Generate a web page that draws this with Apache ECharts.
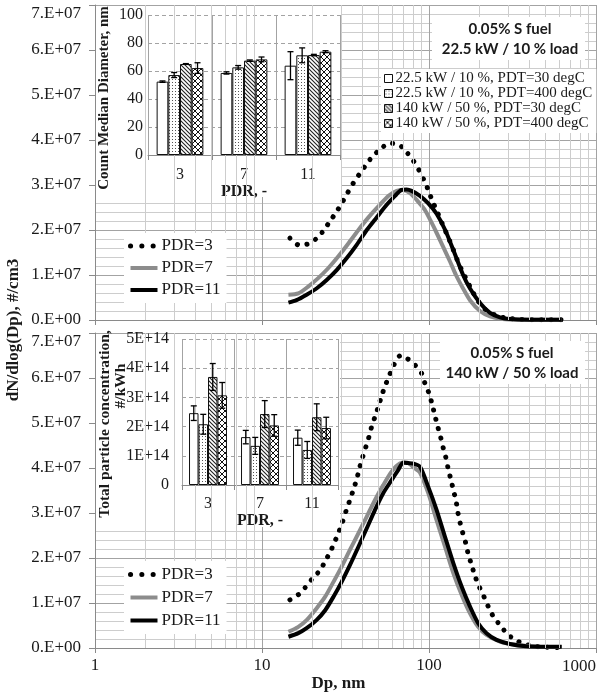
<!DOCTYPE html>
<html>
<head>
<meta charset="utf-8">
<script src="https://cdn.jsdelivr.net/npm/echarts@6/dist/echarts.min.js"></script>
<style>
html, body { margin: 0; padding: 0; background: #fff; }
#chart { width: 597px; height: 693px; }
</style>
</head>
<body>
<div id="chart"></div>
<script>
// ---- Particle number size distributions, 0.05% S fuel (dN/dlog(Dp), units of 1e7 #/cm3) ----
// 22.5 kW / 10 % load
const dpLowPdr3 = [14.7, 16.5, 18.9, 21.5, 23.6, 25.8, 28.0, 30.3, 32.6, 35.2, 38.3, 41.8, 45.8, 50.9, 57.9, 66.4, 73.5, 80.5, 87.1, 93.3, 99.0, 104.6, 111, 117.5, 124.7, 132.3, 139.8, 147.8, 157, 168, 180, 195, 216, 248, 292, 351, 450, 623];
const nLowPdr3 = [1.82, 1.67, 1.69, 1.83, 2.01, 2.22, 2.41, 2.62, 2.83, 3.04, 3.24, 3.44, 3.63, 3.79, 3.93, 3.89, 3.73, 3.54, 3.33, 3.11, 2.89, 2.65, 2.44, 2.22, 2.00, 1.78, 1.56, 1.33, 1.11, 0.89, 0.67, 0.44, 0.24, 0.11, 0.04, 0.015, 0.005, 0.003];
const dpLowPdr7 = [14.4, 16.5, 18.9, 21.7, 24.9, 28.6, 32.9, 37.8, 43.4, 49.9, 57.3, 64.1, 70.1, 77.0, 84.3, 94.7, 109, 121, 133.6, 145, 160, 176, 202, 232, 266, 320, 450, 623];
const nLowPdr7 = [0.56, 0.59, 0.74, 0.93, 1.15, 1.41, 1.70, 2.00, 2.28, 2.53, 2.76, 2.87, 2.89, 2.82, 2.67, 2.44, 2.00, 1.64, 1.30, 1.00, 0.70, 0.44, 0.20, 0.08, 0.03, 0.01, 0.004, 0.003];
const dpLowPdr11 = [14.4, 16.1, 18.5, 21.2, 24.4, 28.0, 32.1, 36.9, 42.4, 48.6, 55.8, 62.6, 68.5, 73.5, 78.7, 88.3, 99.0, 111, 125, 140, 160, 176, 202, 232, 266, 305, 400, 623];
const nLowPdr11 = [0.385, 0.44, 0.56, 0.70, 0.89, 1.11, 1.37, 1.67, 2.00, 2.28, 2.56, 2.76, 2.89, 2.90, 2.87, 2.76, 2.59, 2.36, 2.00, 1.55, 1.00, 0.70, 0.38, 0.16, 0.06, 0.02, 0.005, 0.003];

// 140 kW / 50 % load
const dpHighPdr3 = [14.7, 16.7, 18.3, 20.1, 22.3, 24.0, 25.8, 27.4, 29.0, 30.4, 31.9, 33.6, 35.2, 36.9, 38.3, 39.9, 41.8, 43.6, 45.2, 47.5, 49.9, 52.2, 55.1, 58.1, 61.6, 66.9, 73.5, 82.4, 90.4, 94.6, 100, 104.7, 108.6, 112.8, 117.5, 121.8, 126.4, 130.5, 135.5, 139.9, 145.2, 148.6, 153.4, 159.2, 166, 171.9, 180.2, 188.5, 200, 213.4, 226.5, 242.7, 266, 291.8, 327, 380, 450, 623];
const nHighPdr3 = [1.07, 1.20, 1.36, 1.55, 1.73, 1.94, 2.16, 2.38, 2.60, 2.81, 3.05, 3.29, 3.51, 3.75, 3.99, 4.22, 4.46, 4.68, 4.90, 5.14, 5.38, 5.62, 5.86, 6.07, 6.29, 6.49, 6.44, 6.29, 6.10, 5.88, 5.66, 5.40, 5.16, 4.92, 4.68, 4.44, 4.22, 3.97, 3.73, 3.51, 3.27, 3.03, 2.79, 2.56, 2.33, 2.08, 1.84, 1.60, 1.36, 1.14, 0.92, 0.70, 0.51, 0.33, 0.18, 0.08, 0.03, 0.01];
const dpHighPdr7 = [14.4, 16.5, 18.5, 21.2, 23.9, 26.8, 30.0, 33.6, 37.8, 42.4, 47.5, 53.2, 59.7, 66.9, 73.5, 82.4, 88.3, 99, 111, 124.7, 140, 157, 176, 197, 221, 266, 330, 450, 623];
const nHighPdr7 = [0.36, 0.47, 0.62, 0.88, 1.14, 1.47, 1.81, 2.18, 2.55, 2.92, 3.29, 3.62, 3.92, 4.10, 4.12, 3.99, 3.90, 3.44, 2.84, 2.25, 1.66, 1.18, 0.77, 0.47, 0.29, 0.14, 0.07, 0.03, 0.02];
const dpHighPdr11 = [14.4, 16.5, 18.5, 21.2, 23.9, 26.8, 30.0, 33.6, 37.8, 42.4, 47.5, 53.2, 59.7, 65.5, 70.1, 75, 80.5, 88.3, 99, 111, 124.7, 140, 157, 176, 197, 221, 254, 305, 382, 505, 623];
const nHighPdr11 = [0.25, 0.33, 0.44, 0.62, 0.84, 1.14, 1.47, 1.84, 2.25, 2.66, 3.07, 3.44, 3.73, 3.96, 4.12, 4.11, 4.10, 4.03, 3.58, 3.07, 2.47, 1.88, 1.36, 0.92, 0.55, 0.33, 0.18, 0.09, 0.04, 0.03, 0.03];

// ---- Inset bar charts ----
const pdrCats = ['3', '7', '11'];
const caseNames = [
  '22.5 kW / 10 %, PDT=30 degC',
  '22.5 kW / 10 %, PDT=400 degC',
  '140 kW / 50 %, PDT=30 degC',
  '140 kW / 50 %, PDT=400 degC'
];
// count median diameter, nm (mean and error half-width)
const cmdLow30 = [52.4, 58.6, 63.8];   const cmdLow30Err = [0.5, 0.8, 10.0];
const cmdLow400 = [57.1, 62.6, 71.2];  const cmdLow400Err = [1.8, 1.3, 5.3];
const cmdHigh30 = [65.0, 67.4, 71.4];  const cmdHigh30Err = [0.3, 0.5, 0.5];
const cmdHigh400 = [62.1, 68.3, 73.8]; const cmdHigh400Err = [3.8, 1.7, 0.7];
// total particle concentration, units of 1e14 #/kWh
const tpcLow30 = [2.46, 1.64, 1.62];   const tpcLow30Err = [0.25, 0.23, 0.26];
const tpcLow400 = [2.08, 1.34, 1.20];  const tpcLow400Err = [0.34, 0.29, 0.29];
const tpcHigh30 = [3.70, 2.43, 2.32];  const tpcHigh30Err = [0.46, 0.46, 0.46];
const tpcHigh400 = [3.07, 2.04, 1.95]; const tpcHigh400Err = [0.44, 0.37, 0.37];

// decade ticks and minor log gridlines (2..9 in each decade)
const decadeDp = [1, 10, 100, 1000];
const minorDp = [2, 3, 4, 5, 6, 7, 8, 9, 20, 30, 40, 50, 60, 70, 80, 90, 200, 300, 400, 500, 600, 700, 800, 900];

const SERIF = "'Liberation Serif', 'Times New Roman', serif";
const SANS = "Lato, 'Noto Sans', sans-serif";
const TXT = '#1a1a1a';
const AXIS = '#8a8a8a';
const MAJOR = '#a3a3a3';
const MINOR = '#cdcdcd';
const GRAY_LINE = '#8c8c8c';
const CAT_GAP = 0.27;

// ---- fill patterns for the bars ----
function pattern(size, draw) {
  const c = document.createElement('canvas');
  c.width = size; c.height = size;
  const g = c.getContext('2d');
  g.fillStyle = '#fff';
  g.fillRect(0, 0, size, size);
  draw(g, size);
  return { image: c, repeat: 'repeat' };
}
const fillPlain = '#fff';
const fillDots = pattern(3, (g) => { g.fillStyle = '#555'; g.fillRect(1, 1, 1, 1); });
const fillHatch = pattern(4, (g, s) => {
  g.strokeStyle = '#222'; g.lineWidth = 1.1;
  g.beginPath();
  for (let o = -s; o <= s; o += s) { g.moveTo(o - 1, -1); g.lineTo(o + s + 1, s + 1); }
  g.stroke();
});
const fillCross = pattern(6, (g, s) => {
  g.strokeStyle = '#111'; g.lineWidth = 1;
  g.beginPath();
  for (let o = -s; o <= s; o += s) {
    g.moveTo(o - 1, -1); g.lineTo(o + s + 1, s + 1);
    g.moveTo(o - 1, s + 1); g.lineTo(o + s + 1, -1);
  }
  g.stroke();
});
const fills = [fillPlain, fillDots, fillHatch, fillCross];

const zip = (xs, ys, k) => xs.map((x, i) => [x, ys[i] * k]);

const chart = echarts.init(document.getElementById('chart'), null, { renderer: 'canvas' });

const sciLabel = (v) => v === 0 ? '0.E+00' : (v / 1e7).toFixed(0) + '.E+07';
const X_MAX = decadeDp[decadeDp.length - 1];

function mainX(gi, showLabels) {
  return {
    type: 'log', logBase: 10, gridIndex: gi, min: decadeDp[0], max: X_MAX, z: 0,
    axisLine: { show: true, lineStyle: { color: AXIS, width: 1 } },
    axisTick: { show: true, length: 5, lineStyle: { color: AXIS } },
    axisLabel: showLabels ? {
      show: true, fontFamily: SERIF, fontSize: 17, color: TXT, margin: 9,
      customValues: decadeDp.slice(0, -1),
      showMinLabel: true, hideOverlap: false,
      // the last decade label sits flush with the page edge (title component below)
      formatter: (v) => (v >= X_MAX * 0.999 ? '' : String(Math.round(v)))
    } : { show: false },
    splitLine: { show: true, lineStyle: { color: MAJOR, width: 1 } },
    name: showLabels ? 'Dp, nm' : '',
    nameLocation: 'middle', nameGap: 26,
    nameTextStyle: { fontFamily: SERIF, fontSize: 17, fontWeight: 'bold', color: TXT, padding: [0, 14, 0, 0] }
  };
}
function mainY(gi) {
  return {
    type: 'value', gridIndex: gi, min: 0, max: 7e7, interval: 1e7, z: 0,
    axisLine: { show: true, lineStyle: { color: AXIS } },
    axisTick: { show: true, length: 6, lineStyle: { color: AXIS } },
    axisLabel: {
      fontFamily: SERIF, fontSize: 17, color: TXT, margin: 14,
      formatter: sciLabel, verticalAlignMaxLabel: 'top'
    },
    splitLine: { show: true, lineStyle: { color: MAJOR, width: 1 } },
    minorTick: { show: false, splitNumber: 5 },
    minorSplitLine: { show: true, lineStyle: { color: MINOR, width: 1 } }
  };
}
function insetX(gi, labelMargin) {
  return {
    type: 'category', gridIndex: gi, data: pdrCats, z: 4,
    axisLine: { show: true, lineStyle: { color: AXIS } },
    axisTick: { show: true, length: 5, lineStyle: { color: AXIS } },
    axisLabel: { fontFamily: SERIF, fontSize: 16, color: TXT, margin: labelMargin },
    splitLine: { show: true, lineStyle: { color: MAJOR, width: 1 } },
    name: 'PDR, -', nameLocation: 'middle', nameGap: 27,
    nameTextStyle: { fontFamily: SERIF, fontSize: 16, fontWeight: 'bold', color: TXT }
  };
}
function insetY(gi, max, interval, fmt, margin) {
  return {
    type: 'value', gridIndex: gi, min: 0, max: max, interval: interval, z: 4,
    axisLine: { show: false },
    axisTick: { show: false },
    axisLabel: { fontFamily: SERIF, fontSize: 16, color: TXT, margin: margin, formatter: fmt },
    splitLine: { show: true, lineStyle: { color: MAJOR, type: [4, 3], width: 1 } }
  };
}

function gridlineSeries(ai) {
  return {
    type: 'line', xAxisIndex: ai, yAxisIndex: ai, data: [], z: 1, silent: true,
    markLine: {
      silent: true, symbol: 'none', animation: false,
      label: { show: false },
      lineStyle: { color: MINOR, width: 1, type: 'solid' },
      emphasis: { disabled: true },
      data: minorDp.map((v) => ({ xAxis: v }))
    }
  };
}
const dotStyle = { color: '#000', width: 5, type: [0.1, 9.6], cap: 'round', join: 'round' };
function curve(name, ai, xs, ys, style) {
  return {
    type: 'line', name: name, xAxisIndex: ai, yAxisIndex: ai, z: 3,
    data: zip(xs, ys, 1e7), symbol: 'none', showSymbol: false, smooth: 0.25,
    itemStyle: { color: style.color },
    lineStyle: style, animation: false
  };
}

function barSeries(ai, idx, vals, scale) {
  return {
    type: 'bar', name: caseNames[idx], xAxisIndex: ai, yAxisIndex: ai, z: 5,
    data: vals.map((v) => v * scale),
    barGap: '0%', barCategoryGap: (CAT_GAP * 100) + '%',
    itemStyle: { color: fills[idx], borderColor: '#111', borderWidth: 1 },
    animation: false
  };
}
function errSeries(ai, idx, vals, errs, scale) {
  return {
    type: 'custom', name: 'err' + ai + '-' + idx, xAxisIndex: ai, yAxisIndex: ai, z: 6,
    data: vals.map((v, i) => [i, v * scale, errs[i] * scale]),
    animation: false, silent: true,
    renderItem: function (params, api) {
      const ci = api.value(0), v = api.value(1), e = api.value(2);
      const band = api.size([1, 0])[0];
      const bw = band * (1 - CAT_GAP) / 4;
      const top = api.coord([ci, v + e]);
      const bot = api.coord([ci, v - e]);
      const x = top[0] + (idx - 1.5) * bw;
      const st = { stroke: '#000', lineWidth: 1.3 };
      const cap = 3;
      return {
        type: 'group',
        children: [
          { type: 'line', shape: { x1: x, y1: top[1], x2: x, y2: bot[1] }, style: st },
          { type: 'line', shape: { x1: x - cap, y1: top[1], x2: x + cap, y2: top[1] }, style: st },
          { type: 'line', shape: { x1: x - cap, y1: bot[1], x2: x + cap, y2: bot[1] }, style: st }
        ]
      };
    }
  };
}

const cmdVals = [cmdLow30, cmdLow400, cmdHigh30, cmdHigh400];
const cmdErrs = [cmdLow30Err, cmdLow400Err, cmdHigh30Err, cmdHigh400Err];
const tpcVals = [tpcLow30, tpcLow400, tpcHigh30, tpcHigh400];
const tpcErrs = [tpcLow30Err, tpcLow400Err, tpcHigh30Err, tpcHigh400Err];

const series = [
  gridlineSeries(0),
  gridlineSeries(1),
  curve('PDR=3', 0, dpLowPdr3, nLowPdr3, dotStyle),
  curve('PDR=7', 0, dpLowPdr7, nLowPdr7, { color: GRAY_LINE, width: 4, join: 'round' }),
  curve('PDR=11', 0, dpLowPdr11, nLowPdr11, { color: '#000', width: 4, join: 'round' }),
  curve('PDR=3', 1, dpHighPdr3, nHighPdr3, dotStyle),
  curve('PDR=7', 1, dpHighPdr7, nHighPdr7, { color: GRAY_LINE, width: 4, join: 'round' }),
  curve('PDR=11', 1, dpHighPdr11, nHighPdr11, { color: '#000', width: 4, join: 'round' })
];
for (let k = 0; k < 4; k++) series.push(barSeries(2, k, cmdVals[k], 1));
for (let k = 0; k < 4; k++) series.push(barSeries(3, k, tpcVals[k], 1e14));
for (let k = 0; k < 4; k++) series.push(errSeries(2, k, cmdVals[k], cmdErrs[k], 1));
for (let k = 0; k < 4; k++) series.push(errSeries(3, k, tpcVals[k], tpcErrs[k], 1e14));

function pdrLegend(top, rowH) {
  const hidden = { opacity: 0 };
  return {
    orient: 'vertical', left: 124, top: top, z: 7,
    backgroundColor: '#fff', padding: [2, 6, 2, 4],
    itemWidth: 27, itemHeight: 10, itemGap: 0, selectedMode: false,
    textStyle: { fontFamily: SERIF, fontSize: 17, color: TXT, lineHeight: rowH, padding: [0, 0, 0, -1] },
    data: [
      { name: 'PDR=3', itemStyle: hidden, lineStyle: { width: 5, type: [0.1, 11.2], cap: 'round', color: '#000' } },
      { name: 'PDR=7', itemStyle: hidden, lineStyle: { width: 4, color: GRAY_LINE } },
      { name: 'PDR=11', itemStyle: hidden, lineStyle: { width: 4, color: '#000' } }
    ]
  };
}

const option = {
  backgroundColor: '#fff',
  animation: false,
  // last decade label of the Dp axis, right-aligned to the page edge
  title: {
    text: String(X_MAX), right: 1, top: 658, padding: 0, z: 9,
    textStyle: { fontFamily: SERIF, fontSize: 17, fontWeight: 'normal', color: TXT }
  },
  grid: [
    { left: 95, top: 5, width: 501, height: 315 },
    { left: 95, top: 333, width: 501, height: 315 },
    { left: 148, top: 15, width: 192, height: 140 },
    { left: 182, top: 339, width: 156, height: 146 }
  ],
  xAxis: [mainX(0, false), mainX(1, true), insetX(2, 12), insetX(3, 11)],
  yAxis: [
    mainY(0), mainY(1),
    insetY(2, 100, 20, (v) => String(v), 5),
    insetY(3, 5e14, 1e14, (v) => v === 0 ? '0' : (v / 1e14) + 'E+14', 13)
  ],
  legend: [
    {
      orient: 'vertical', left: 381, top: 69, z: 7,
      backgroundColor: '#fff', padding: [2, 4, 2, 3],
      itemWidth: 8, itemHeight: 8, itemGap: 0, selectedMode: false,
      icon: 'rect',
      textStyle: { fontFamily: SERIF, fontSize: 15, color: TXT, lineHeight: 15, padding: [0, 0, 0, -2] },
      data: caseNames.map((n) => ({ name: n, itemStyle: { borderColor: '#111', borderWidth: 1 } }))
    },
    pdrLegend(233, 22),
    pdrLegend(561, 23)
  ],
  graphic: [
    // white panels behind the insets
    { type: 'rect', z: 2, silent: true, shape: { x: 96, y: 6, width: 246, height: 191 }, style: { fill: '#fff' } },
    { type: 'rect', z: 2, silent: true, shape: { x: 96, y: 334, width: 244, height: 193 }, style: { fill: '#fff' } },
    // condition boxes
    { type: 'rect', z: 7, silent: true, shape: { x: 432, y: 17, width: 153, height: 43 }, style: { fill: '#fff' } },
    { type: 'text', z: 8, x: 510, y: 29, style: { text: '0.05% S fuel', font: 'bold 15px ' + SANS, fill: TXT, align: 'center', verticalAlign: 'middle' } },
    { type: 'text', z: 8, x: 510, y: 49, style: { text: '22.5 kW / 10 % load', font: 'bold 15px ' + SANS, fill: TXT, align: 'center', verticalAlign: 'middle' } },
    { type: 'rect', z: 7, silent: true, shape: { x: 440, y: 341, width: 145, height: 43 }, style: { fill: '#fff' } },
    { type: 'text', z: 8, x: 512, y: 353, style: { text: '0.05% S fuel', font: 'bold 15px ' + SANS, fill: TXT, align: 'center', verticalAlign: 'middle' } },
    { type: 'text', z: 8, x: 512, y: 373, style: { text: '140 kW / 50 % load', font: 'bold 15px ' + SANS, fill: TXT, align: 'center', verticalAlign: 'middle' } },
    // axis titles
    { type: 'text', z: 8, x: 14, y: 330, rotation: Math.PI / 2, style: { text: 'dN/dlog(Dp), #/cm3', font: 'bold 17px ' + SERIF, fill: TXT, align: 'center', verticalAlign: 'middle' } },
    { type: 'text', z: 8, x: 104, y: 98, rotation: Math.PI / 2, style: { text: 'Count Median Diameter, nm', font: 'bold 15px ' + SERIF, fill: TXT, align: 'center', verticalAlign: 'middle' } },
    { type: 'text', z: 8, x: 105, y: 424, rotation: Math.PI / 2, style: { text: 'Total particle concentration,', font: 'bold 15.5px ' + SERIF, fill: TXT, align: 'center', verticalAlign: 'middle' } },
    { type: 'text', z: 8, x: 121, y: 386, rotation: Math.PI / 2, style: { text: '#/kWh', font: 'bold 15.5px ' + SERIF, fill: TXT, align: 'center', verticalAlign: 'middle' } }
  ],
  series: series
};

chart.setOption(option);
</script>
</body>
</html>
